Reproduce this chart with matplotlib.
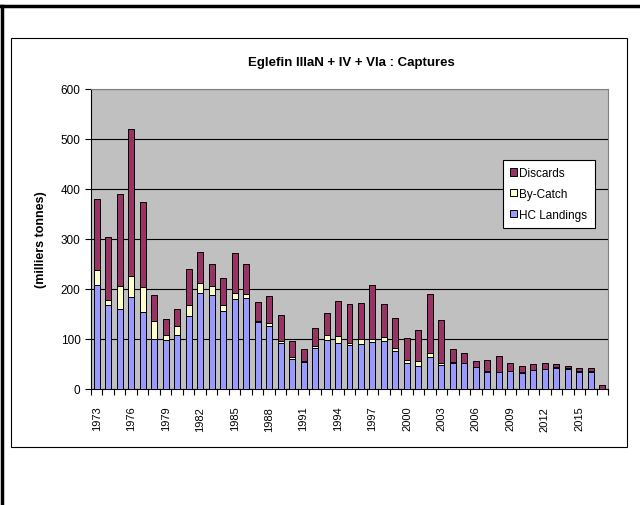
import numpy as np
import matplotlib
matplotlib.use("Agg")
import matplotlib.pyplot as plt
from matplotlib.patches import Rectangle
from matplotlib.lines import Line2D

plt.rcParams['font.family'] = ['Liberation Sans', 'DejaVu Sans']

years = list(range(1973, 2018))
hc_landings = [208, 168, 160, 184, 155, 101, 98, 109, 147, 193, 189, 157, 181, 183, 135,
               126, 92, 61, 55, 82, 98, 93, 89, 91, 95, 96, 76, 53, 47, 65,
               49, 52, 52, 44, 35, 34, 36, 33, 38, 40, 43, 41, 35, 35, 0]
by_catch = [30, 11, 47, 42, 50, 36, 11, 18, 22, 20, 18, 12, 12, 8, 2,
            6, 5, 3, 2, 5, 11, 14, 4, 9, 5, 8, 6, 5, 9, 8,
            4, 3, 1, 1, 1, 1, 1, 1, 1, 1, 1, 1, 1, 1, 0]
discards = [143, 126, 183, 294, 170, 51, 32, 34, 71, 61, 43, 54, 80, 59, 37,
            55, 51, 32, 23, 36, 43, 70, 77, 73, 108, 66, 61, 45, 63, 118,
            85, 26, 20, 12, 23, 32, 16, 13, 12, 12, 7, 5, 7, 7, 9]

c_hc = '#9999FF'
c_bc = '#FFFFCC'
c_dis = '#993366'

fig = plt.figure(figsize=(6.4, 5.06), dpi=100)

# cadre de la page et cadre du graphique
fig.add_artist(Line2D([0, 1], [1 - 7 / 506, 1 - 7 / 506], color='black', lw=2.5))
fig.add_artist(Line2D([1.5 / 640, 1.5 / 640], [0, 1 - 7 / 506], color='black', lw=2.5))
fig.add_artist(Rectangle((11 / 640, 1 - 448 / 506), 616 / 640, 409 / 506,
                         fill=False, edgecolor='black', lw=0.8))

ax = fig.add_axes([91 / 640, 1 - 390 / 506, 517 / 640, 300 / 506])
ax.set_facecolor('#C0C0C0')

x = np.arange(len(years))
hc = np.array(hc_landings)
bc = np.array(by_catch)
ds = np.array(discards)
w = 0.52
ax.bar(x, hc, w, color=c_hc, edgecolor='black', lw=0.7, label='HC Landings', zorder=3)
ax.bar(x, bc, w, bottom=hc, color=c_bc, edgecolor='black', lw=0.7, label='By-Catch', zorder=3)
ax.bar(x, ds, w, bottom=hc + bc, color=c_dis, edgecolor='black', lw=0.7, label='Discards', zorder=3)

ax.set_xlim(-0.5, len(years) - 0.5)
ax.set_ylim(0, 600)
ax.set_yticks(range(0, 601, 100))
ax.yaxis.grid(True, color='black', lw=0.8, zorder=1)
ax.tick_params(axis='y', direction='out', length=4, labelsize=8.5, width=0.8)

ax.set_xticks(x[::3])
ax.set_xticklabels([str(y) for y in years[::3]], rotation=90, fontsize=8)
ax.set_xticks(np.arange(-0.5, len(years), 1), minor=True)
ax.tick_params(axis='x', which='major', length=0, pad=12)
ax.tick_params(axis='x', which='minor', direction='out', length=4, width=0.8)

for s in ['top', 'right']:
    ax.spines[s].set_color('#808080')
for s in ['left', 'bottom']:
    ax.spines[s].set_color('black')

ax.set_ylabel('(milliers tonnes)', fontsize=9, fontweight='bold', labelpad=10)

fig.text(351 / 640, 1 - 63 / 506, 'Eglefin IIIaN + IV + VIa : Captures',
         ha='center', va='center', fontsize=9.5, fontweight='bold')

handles, labels = ax.get_legend_handles_labels()
leg = ax.legend(handles[::-1], labels[::-1], loc='upper left',
                bbox_to_anchor=((497 - 91) / 517, (390 - 155) / 300),
                fontsize=8.5, frameon=True, fancybox=False, edgecolor='black',
                handlelength=0.6, handleheight=0.6, handletextpad=0.2,
                labelspacing=0.75, borderpad=0.6, framealpha=1)
leg.get_frame().set_linewidth(0.8)

fig.savefig('out.png', dpi=100)
